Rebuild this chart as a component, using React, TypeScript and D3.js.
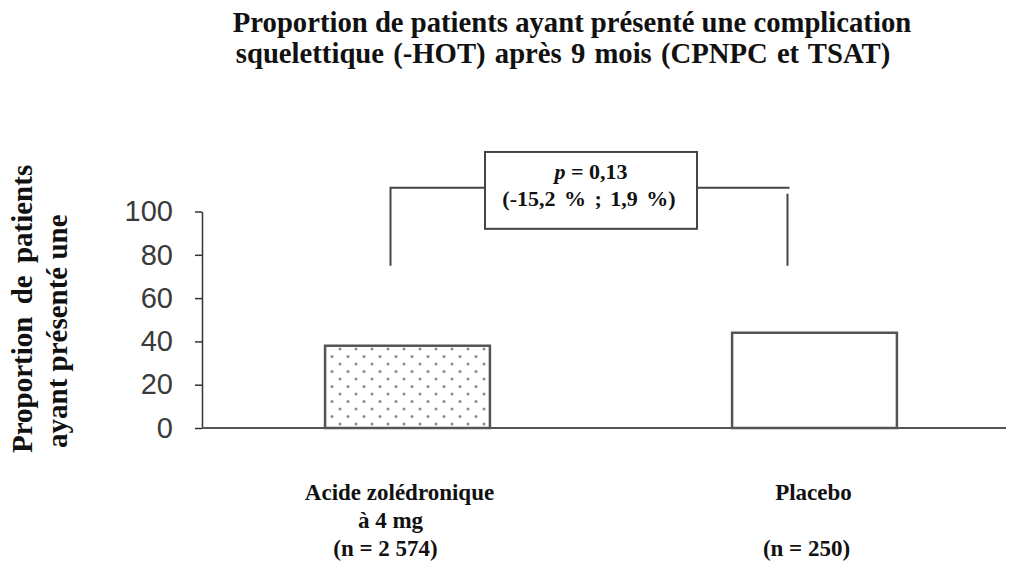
import React, { useEffect, useRef } from "react";
import * as d3 from "d3";

// data
const categories = ["Acide zolédronique", "Placebo"];
const values = [38, 44];
const categoryLines = [
  ["Acide zolédronique", "à 4 mg", "(n = 2 574)"],
  ["Placebo", "", "(n = 250)"],
];
const yTicks = [0, 20, 40, 60, 80, 100];
const titleLines = [
  "Proportion de patients ayant présenté une complication",
  "squelettique (-HOT) après 9 mois (CPNPC et TSAT)",
];
const yTitleLines = ["Proportion de patients", "ayant présenté une"];
const pValue = "0,13";
const ciText = "(-15,2 % ; 1,9 %)";
// bracket / box levels in data units
const bracketTop = 111;
const bracketBottom = 75;
const boxTop = 127.5;
const boxBottom = 92;

const App = () => {
  const ref = useRef<SVGSVGElement>(null);

  useEffect(() => {
    const svg = d3.select(ref.current);
    svg.selectAll("*").remove();

    const width = 1010;
    const height = 569;
    const serif = "'Liberation Serif', 'Times New Roman', serif";
    const sans = "'Liberation Sans', Arial, sans-serif";

    // scales
    const y = d3.scaleLinear().domain([0, 100]).range([428, 211.5]);
    const x = d3
      .scaleBand()
      .domain(categories)
      .range([204, 1018])
      .paddingInner(0.595)
      .paddingOuter(0.2975);

    // dotted fill pattern
    const defs = svg.append("defs");
    const pat = defs
      .append("pattern")
      .attr("id", "dots")
      .attr("patternUnits", "userSpaceOnUse")
      .attr("width", 16)
      .attr("height", 15);
    pat.append("rect").attr("width", 16).attr("height", 15).attr("fill", "#fff");
    pat.append("circle").attr("cx", 4).attr("cy", 4).attr("r", 1.5).attr("fill", "#8c8c8c");
    pat.append("circle").attr("cx", 12).attr("cy", 11.5).attr("r", 1.5).attr("fill", "#8c8c8c");

    // title
    svg
      .append("g")
      .selectAll("text")
      .data(titleLines)
      .enter()
      .append("text")
      .attr("x", (d, i) => (i === 0 ? 572 : 563))
      .attr("y", (d, i) => 32 + i * 31)
      .attr("text-anchor", "middle")
      .attr("font-family", serif)
      .attr("font-weight", "bold")
      .attr("font-size", 28.7)
      .attr("word-spacing", (d, i) => (i === 0 ? 0 : 2))
      .attr("fill", "#111")
      .text((d) => d);

    // y axis title (rotated)
    svg
      .append("g")
      .selectAll("text")
      .data(yTitleLines)
      .enter()
      .append("text")
      .attr("transform", (d, i) => `translate(${i === 0 ? 32 : 67},${i === 0 ? 453 : 448}) rotate(-90)`)
      .attr("text-anchor", "start")
      .attr("font-family", serif)
      .attr("font-weight", "bold")
      .attr("font-size", 29)
      .attr("word-spacing", (d, i) => (i === 0 ? 5 : 0))
      .attr("fill", "#111")
      .text((d) => d);

    // y axis
    const yAxis = svg
      .append("g")
      .attr("transform", "translate(202,0)")
      .call(
        d3
          .axisLeft(y)
          .tickValues(yTicks)
          .tickSize(7)
          .tickSizeOuter(0)
          .tickPadding(22)
      );
    yAxis.select(".domain").attr("stroke", "#333").attr("stroke-width", 1.5);
    yAxis.selectAll(".tick line").attr("stroke", "#333").attr("stroke-width", 1.5);
    yAxis
      .selectAll(".tick text")
      .attr("font-family", sans)
      .attr("font-size", 29)
      .attr("fill", "#3a3a3a");

    // bars
    svg
      .selectAll(".bar")
      .data(values)
      .enter()
      .append("rect")
      .attr("class", "bar")
      .attr("x", (d, i) => x(categories[i]))
      .attr("y", (d) => y(d))
      .attr("width", x.bandwidth())
      .attr("height", (d) => y(0) - y(d))
      .attr("fill", (d, i) => (i === 0 ? "url(#dots)" : "#fff"))
      .attr("stroke", "#555")
      .attr("stroke-width", 2.5);

    // x baseline
    svg
      .append("line")
      .attr("x1", 202)
      .attr("x2", 1006)
      .attr("y1", y(0))
      .attr("y2", y(0))
      .attr("stroke", "#555")
      .attr("stroke-width", 2);

    // category labels
    const dx = [
      [-8, -17, -22],
      [-1, 0, -8],
    ];
    categoryLines.forEach((lines, ci) => {
      const cx = x(categories[ci]) + x.bandwidth() / 2;
      lines.forEach((t, li) => {
        if (!t) return;
        svg
          .append("text")
          .attr("x", cx + dx[ci][li])
          .attr("y", 500 + li * 28)
          .attr("text-anchor", "middle")
          .attr("font-family", serif)
          .attr("font-weight", "bold")
          .attr("font-size", 23)
          .attr("fill", "#111")
          .text(t);
      });
    });

    // significance bracket
    const leftX = x(categories[0]) + x.bandwidth() / 2 - 17;
    const rightX = x(categories[1]) + x.bandwidth() / 2 - 27;
    const boxL = 485;
    const boxR = 697;
    const br = svg.append("g").attr("stroke", "#444").attr("stroke-width", 2).attr("fill", "none");
    br.append("path").attr(
      "d",
      `M${leftX},${y(bracketBottom)}V${y(bracketTop)}H${boxL}`
    );
    br.append("path").attr(
      "d",
      `M${boxR},${y(bracketTop)}H${rightX + 2}M${rightX},${y(bracketTop) + 6}V${y(bracketBottom)}`
    );
    br.append("rect")
      .attr("x", boxL)
      .attr("y", y(boxTop))
      .attr("width", boxR - boxL)
      .attr("height", y(boxBottom) - y(boxTop))
      .attr("fill", "#fff");

    const boxCx = (boxL + boxR) / 2;
    const pt = svg
      .append("text")
      .attr("x", boxCx)
      .attr("y", 179)
      .attr("text-anchor", "middle")
      .attr("font-family", serif)
      .attr("font-weight", "bold")
      .attr("font-size", 22)
      .attr("fill", "#111");
    pt.append("tspan").attr("font-style", "italic").text("p");
    pt.append("tspan").text(` = ${pValue}`);
    svg
      .append("text")
      .attr("x", boxCx - 2)
      .attr("y", 206)
      .attr("text-anchor", "middle")
      .attr("font-family", serif)
      .attr("font-weight", "bold")
      .attr("font-size", 22)
      .attr("fill", "#111")
      .attr("word-spacing", 3)
      .text(ciText);

    svg.attr("width", width).attr("height", height);
  }, []);

  return (
    <svg
      ref={ref}
      width={1010}
      height={569}
      style={{ position: "absolute", left: 0, top: 0, background: "#fff" }}
    ></svg>
  );
};

export default App;
